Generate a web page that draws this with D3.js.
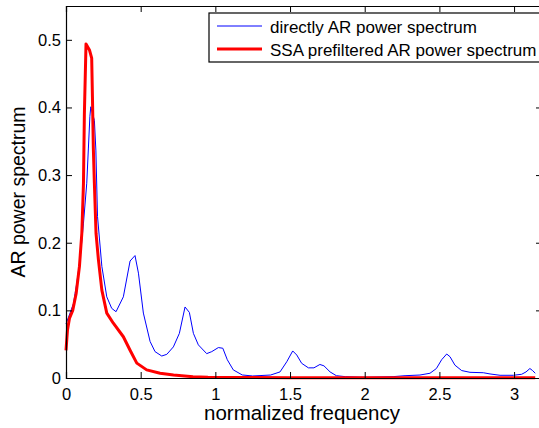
<!DOCTYPE html>
<html>
<head>
<meta charset="utf-8">
<script src="https://cdn.jsdelivr.net/npm/d3@7"></script>
<style>
  body { margin: 0; background: #fff; }
  svg { display: block; font-family: "Liberation Sans", Arial, sans-serif; }
</style>
</head>
<body>
<div id="chart"></div>
<script>
const freqDirect = [0, 0.027, 0.05, 0.072, 0.094, 0.117, 0.139, 0.150, 0.160, 0.166, 0.190, 0.200, 0.211, 0.240, 0.273, 0.306, 0.335, 0.384, 0.429, 0.462, 0.485, 0.518, 0.563, 0.596, 0.641, 0.675, 0.719, 0.759, 0.797, 0.826, 0.853, 0.886, 0.942, 0.976, 1.02, 1.05, 1.08, 1.12, 1.18, 1.25, 1.37, 1.433, 1.478, 1.518, 1.545, 1.578, 1.623, 1.66, 1.70, 1.727, 1.768, 1.81, 1.87, 2.0, 2.19, 2.27, 2.37, 2.437, 2.48, 2.515, 2.549, 2.571, 2.604, 2.649, 2.705, 2.794, 2.839, 2.906, 2.995, 3.051, 3.08, 3.106, 3.124, 3.1416];
const powerDirect = [0.080, 0.096, 0.110, 0.140, 0.175, 0.229, 0.288, 0.340, 0.387, 0.401, 0.381, 0.337, 0.239, 0.165, 0.120, 0.103, 0.098, 0.120, 0.173, 0.181, 0.155, 0.096, 0.054, 0.039, 0.0325, 0.035, 0.046, 0.066, 0.105, 0.097, 0.066, 0.049, 0.036, 0.039, 0.045, 0.044, 0.027, 0.012, 0.0045, 0.003, 0.0044, 0.009, 0.024, 0.040, 0.034, 0.0217, 0.015, 0.015, 0.020, 0.018, 0.009, 0.0034, 0.002, 0.001, 0.002, 0.0034, 0.0044, 0.007, 0.014, 0.027, 0.0355, 0.0315, 0.019, 0.011, 0.0084, 0.0078, 0.006, 0.004, 0.004, 0.0055, 0.009, 0.014, 0.011, 0.007];

const freqSSA = [0, 0.01, 0.023, 0.045, 0.068, 0.09, 0.106, 0.117, 0.123, 0.134, 0.157, 0.172, 0.177, 0.183, 0.19, 0.201, 0.217, 0.24, 0.273, 0.317, 0.384, 0.429, 0.474, 0.54, 0.63, 0.72, 0.85, 0.95, 1.5, 3.1416];
const powerSSA = [0.041, 0.071, 0.088, 0.100, 0.125, 0.165, 0.214, 0.288, 0.39, 0.494, 0.485, 0.473, 0.416, 0.340, 0.288, 0.214, 0.175, 0.130, 0.096, 0.081, 0.061, 0.041, 0.022, 0.012, 0.007, 0.0045, 0.002, 0.001, 0.0005, 0.0003];

const xTicks = [0, 0.5, 1, 1.5, 2, 2.5, 3];
const yTicks = [0, 0.1, 0.2, 0.3, 0.4, 0.5];
const legendLabels = ["directly AR power spectrum", "SSA prefiltered AR power spectrum"];
const seriesColors = ["#0000ff", "#ff0000"];

const margin = {top: 6, right: 0, bottom: 50, left: 66},
    width = 476,
    height = 372;

const svg = d3.select("#chart")
    .append("svg")
    .attr("width", 539)
    .attr("height", 428)
    .append("g")
    .attr("transform", `translate(${margin.left}, ${margin.top})`);

const x = d3.scaleLinear()
    .domain([0, 3.187])
    .range([0, width]);

const y = d3.scaleLinear()
    .domain([0, 0.55])
    .range([height, 0]);

// curves
const line = d3.line()
    .x(d => x(d[0]))
    .y(d => y(d[1]));

const directData = freqDirect.map((f, i) => [f, powerDirect[i]]);
const ssaData = freqSSA.map((f, i) => [f, powerSSA[i]]);

svg.append("path")
    .datum(directData)
    .attr("fill", "none")
    .attr("stroke", seriesColors[0])
    .attr("stroke-width", 1)
    .attr("d", line);

svg.append("path")
    .datum(ssaData)
    .attr("fill", "none")
    .attr("stroke", seriesColors[1])
    .attr("stroke-width", 3)
    .attr("stroke-linejoin", "round")
    .attr("d", line);

// axes, MATLAB style box with inward ticks
const fmt = d => d === 0 ? "0" : String(d);

const xAxis = svg.append("g")
    .attr("transform", `translate(0, ${height})`)
    .call(d3.axisBottom(x).tickValues(xTicks).tickSize(-6).tickPadding(10).tickFormat(fmt));
xAxis.selectAll("text").attr("font-size", 16.5).attr("fill", "#000");

svg.append("g")
    .call(d3.axisTop(x).tickValues(xTicks).tickSize(-6).tickFormat(""));

const yAxis = svg.append("g")
    .call(d3.axisLeft(y).tickValues(yTicks).tickSize(-6).tickPadding(5).tickFormat(fmt));
yAxis.selectAll("text").attr("font-size", 16.5).attr("fill", "#000");

svg.append("g")
    .attr("transform", `translate(${width}, 0)`)
    .call(d3.axisRight(y).tickValues(yTicks).tickSize(-6).tickFormat(""));

svg.selectAll(".domain").attr("stroke", "#000").attr("stroke-width", 1.2);
svg.selectAll(".tick line").attr("stroke", "#000");

// axis labels
svg.append("text")
    .attr("x", 302 - margin.left)
    .attr("y", height + 42)
    .attr("text-anchor", "middle")
    .attr("font-size", 20.5)
    .text("normalized frequency");

svg.append("text")
    .attr("transform", `translate(${25 - margin.left}, ${height / 2}) rotate(-90)`)
    .attr("text-anchor", "middle")
    .attr("font-size", 19.5)
    .text("AR power spectrum");

// legend
const legend = svg.append("g")
    .attr("transform", `translate(${209 - margin.left}, ${13 - margin.top})`);

legend.append("rect")
    .attr("width", 332)
    .attr("height", 49)
    .attr("fill", "#fff")
    .attr("stroke", "#000")
    .attr("stroke-width", 1.2);

legendLabels.forEach((label, i) => {
    const ly = 13 + i * 23;
    legend.append("line")
        .attr("x1", 8).attr("x2", 53)
        .attr("y1", ly).attr("y2", ly)
        .attr("stroke", seriesColors[i])
        .attr("stroke-width", i === 0 ? 1 : 3);
    legend.append("text")
        .attr("x", 61)
        .attr("y", ly + 7)
        .attr("font-size", 17)
        .text(label);
});
</script>
</body>
</html>
